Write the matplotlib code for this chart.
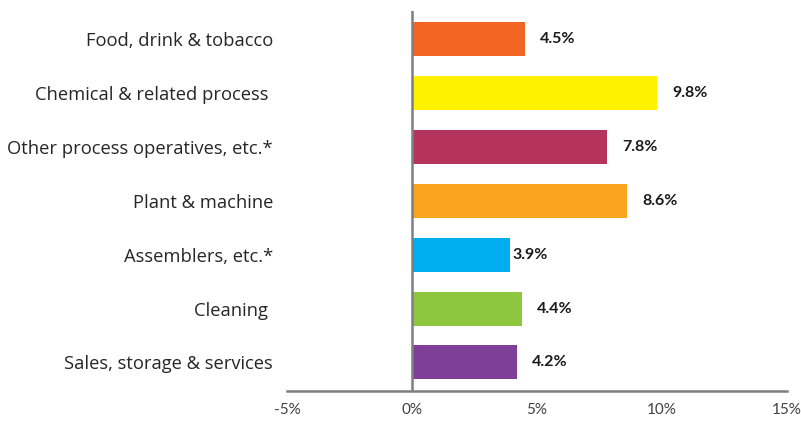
import matplotlib
matplotlib.use("Agg")
import matplotlib.pyplot as plt

categories = ["Food, drink & tobacco", "Chemical & related process ",
              "Other process operatives, etc.*", "Plant & machine",
              "Assemblers, etc.*", "Cleaning ", "Sales, storage & services"]
values = [4.5, 9.8, 7.8, 8.6, 3.9, 4.4, 4.2]
value_labels = ["4.5%", "9.8%", "7.8%", "8.6%", "3.9%", "4.4%", "4.2%"]
colors = ["#F26522", "#FFF200", "#B5345E", "#F9A31F", "#00AEEF", "#8DC63F", "#7F3F98"]
xticks = [-5, 0, 5, 10, 15]
xtick_labels = ["-5%", "0%", "5%", "10%", "15%"]

plt.rcParams['font.family'] = ['Lato', 'DejaVu Sans']

W, H = 801, 421
fig = plt.figure(figsize=(W / 100, H / 100), dpi=100)
left, right = 287, 787
top, bottom = 11, 390.5
ax = fig.add_axes([left / W, 1 - bottom / H, (right - left) / W, (bottom - top) / H])

ypos = list(range(len(categories)))
ax.barh(ypos, values, height=0.63, color=colors, zorder=2)
ax.set_xlim(-5, 15)
ax.set_ylim(len(categories) - 0.5 + 0.02, -0.5 - 0.02)

ax.axvline(0, color="#7f7f7f", lw=1.8, zorder=3)
for s in ["top", "right", "left"]:
    ax.spines[s].set_visible(False)
ax.spines["bottom"].set_color("#7f7f7f")
ax.spines["bottom"].set_linewidth(1.8)

ax.set_yticks(ypos)
ax.set_yticklabels(categories, fontsize=13.2, color="#262626",
                   family=["Open Sans", "DejaVu Sans"])
ax.tick_params(axis="y", length=0, pad=10)
ax.set_xticks(xticks)
ax.set_xticklabels(xtick_labels, fontsize=11, color="#404040")
ax.tick_params(axis="x", length=0, pad=9)

for i, (v, lab) in enumerate(zip(values, value_labels)):
    off = 2 if categories[i].startswith("Assemblers") else 11
    ax.annotate(lab, (v, i), xytext=(off, 0), textcoords="offset points",
                ha="left", va="center", fontsize=11.5, fontweight="bold", color="#1a1a1a")

fig.savefig("out.png", dpi=100)
